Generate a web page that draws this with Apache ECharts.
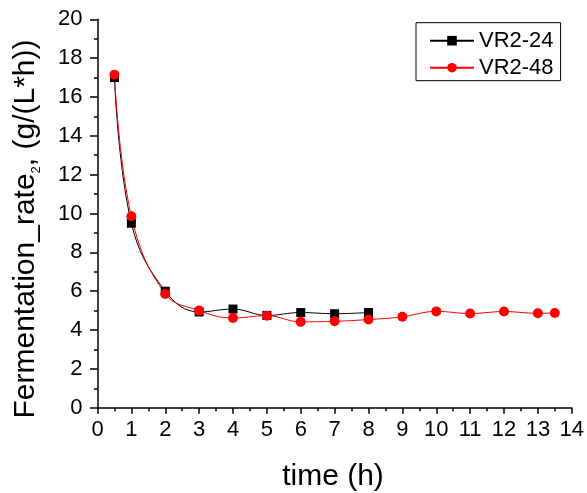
<!DOCTYPE html>
<html>
<head>
<meta charset="utf-8">
<script src="https://cdn.jsdelivr.net/npm/echarts@6/dist/echarts.min.js"></script>
<style>
  html, body { margin: 0; padding: 0; background: #fff; }
  #chart { width: 587px; height: 493px; }
</style>
</head>
<body>
<div id="chart"></div>
<script>
// Fermentation rate over time for two runs
const seriesNames = ['VR2-24', 'VR2-48'];
const timeVR24 = [0.5, 1, 2, 3, 4, 5, 6, 7, 8];
const rateVR24 = [17.0, 9.5, 6.0, 4.93, 5.08, 4.75, 4.9, 4.84, 4.9];
const timeVR48 = [0.5, 1, 2, 3, 4, 5, 6, 7, 8, 9, 10, 11, 12, 13, 13.5];
const rateVR48 = [17.15, 9.86, 5.86, 5.0, 4.62, 4.74, 4.42, 4.45, 4.54, 4.68, 4.96, 4.85, 4.95, 4.86, 4.88];
const xRange = [0, 14];
const yRange = [0, 20];
const xStep = 1;
const yStep = 2;

const FONT = '"Liberation Sans", Arial, sans-serif';

function pairs(xs, ys) {
  return xs.map((x, i) => [x, ys[i]]);
}

const chart = echarts.init(document.getElementById('chart'), null, { renderer: 'canvas' });

const axisCommon = {
  axisLine: { show: true, onZero: false, lineStyle: { color: '#000', width: 1.5 } },
  axisTick: { show: true, inside: false, lineStyle: { color: '#000', width: 1.5 } },
  minorTick: { show: true, splitNumber: 2, lineStyle: { color: '#000', width: 1.5 } },
  splitLine: { show: false },
  axisLabel: { color: '#000', fontFamily: FONT, fontSize: 22 }
};

chart.setOption({
  animation: false,
  backgroundColor: '#fff',
  grid: { left: 97.5, right: 15, top: 19.3, bottom: 85.3, containLabel: false },
  xAxis: Object.assign({}, axisCommon, {
    type: 'value',
    min: xRange[0], max: xRange[1], interval: xStep,
    axisTick: Object.assign({}, axisCommon.axisTick, { length: 6 }),
    minorTick: Object.assign({}, axisCommon.minorTick, { length: 3.5 }),
    axisLabel: Object.assign({}, axisCommon.axisLabel, { margin: 11, showMinLabel: true, showMaxLabel: true })
  }),
  yAxis: Object.assign({}, axisCommon, {
    type: 'value',
    min: yRange[0], max: yRange[1], interval: yStep,
    axisTick: Object.assign({}, axisCommon.axisTick, { length: 7.5 }),
    minorTick: Object.assign({}, axisCommon.minorTick, { length: 3.5 }),
    axisLabel: Object.assign({}, axisCommon.axisLabel, { margin: 15 })
  }),
  legend: {
    orient: 'vertical',
    left: 416,
    top: 22.7,
    padding: [7, 7, 2, 13],
    itemGap: 5,
    itemWidth: 44,
    itemHeight: 12,
    borderColor: '#000',
    borderWidth: 1,
    borderRadius: 0,
    textStyle: { color: '#000', fontFamily: FONT, fontSize: 22 },
    data: seriesNames
  },
  graphic: [
    {
      type: 'text',
      x: 26,
      y: 229,
      rotation: Math.PI / 2,
      style: {
        text: '{a|Fermentation_rate}{s|2}{a|, (g/(L*h))}',
        align: 'center',
        verticalAlign: 'middle',
        fill: '#000',
        rich: {
          a: { fontFamily: FONT, fontSize: 30, lineHeight: 34, fill: '#000' },
          s: { fontFamily: FONT, fontSize: 13, lineHeight: 20, verticalAlign: 'bottom', fill: '#000' }
        }
      }
    },
    {
      type: 'text',
      x: 333,
      y: 477,
      style: {
        text: 'time (h)',
        align: 'center',
        verticalAlign: 'middle',
        fill: '#000',
        fontFamily: FONT,
        fontSize: 30
      }
    }
  ],
  series: [
    {
      name: seriesNames[0],
      type: 'line',
      data: pairs(timeVR24, rateVR24),
      smooth: 0.4,
      symbol: 'rect',
      symbolSize: 9,
      showAllSymbol: true,
      color: '#000',
      lineStyle: { color: '#000', width: 1 },
      itemStyle: { color: '#000' }
    },
    {
      name: seriesNames[1],
      type: 'line',
      data: pairs(timeVR48, rateVR48),
      smooth: 0.4,
      symbol: 'circle',
      symbolSize: 10,
      showAllSymbol: true,
      color: '#ff0000',
      lineStyle: { color: '#ff0000', width: 1 },
      itemStyle: { color: '#ff0000' }
    }
  ]
});
</script>
</body>
</html>
